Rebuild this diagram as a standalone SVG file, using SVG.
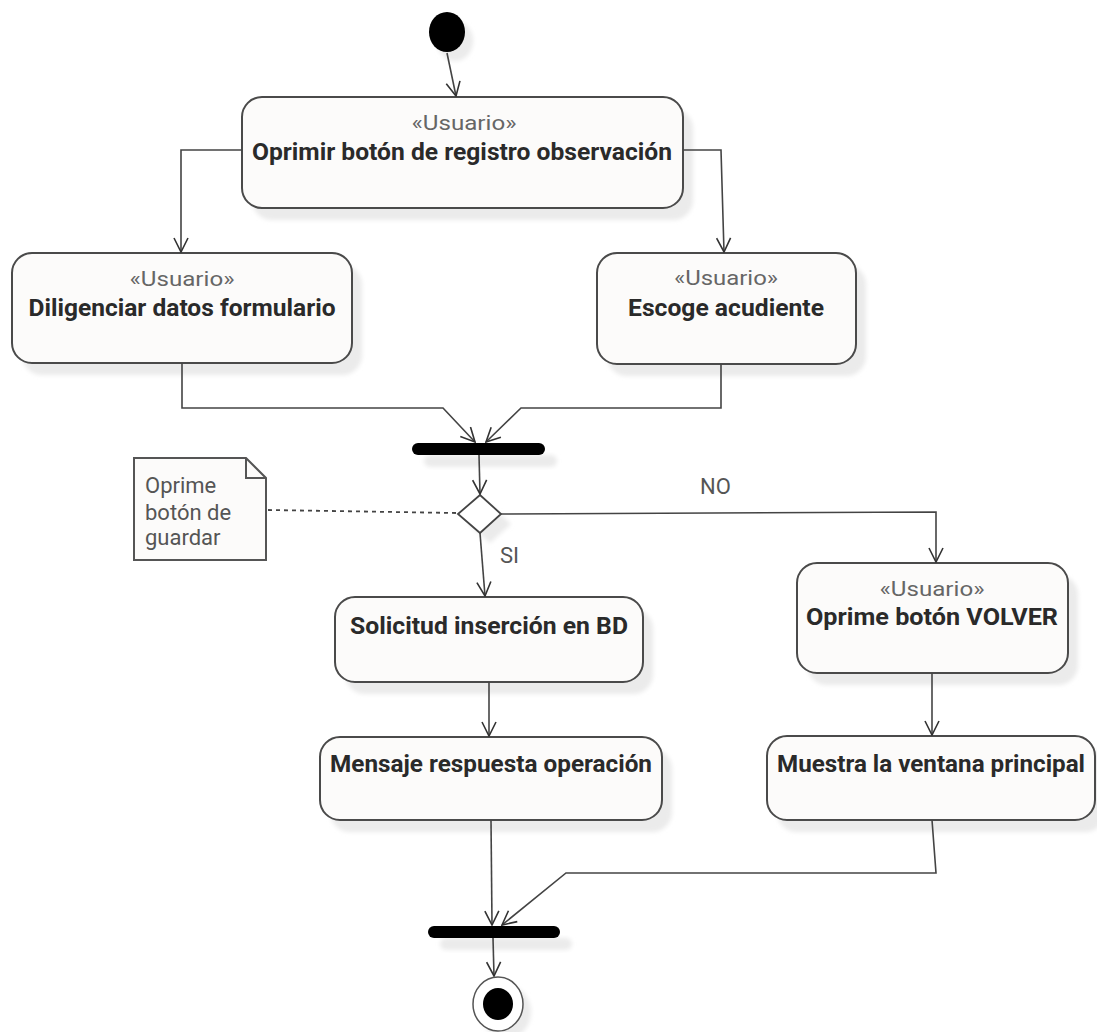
<svg xmlns="http://www.w3.org/2000/svg" width="1097" height="1032" viewBox="0 0 1097 1032">
<style>
.box{fill:#fcfbfa;stroke:#4a4a4a;stroke-width:2}
.shadow{fill:#ebebeb}
.st{font-family:Roboto,"Liberation Sans",sans-serif;font-size:21px;fill:#666;text-anchor:middle}
.nm{font-family:Roboto,"Liberation Sans",sans-serif;font-size:23px;font-weight:bold;fill:#2a2a2a;text-anchor:middle}
.lbl{font-family:Roboto,"Liberation Sans",sans-serif;font-size:22px;fill:#555}
.edge{fill:none;stroke:#444;stroke-width:1.6}
.bar{fill:#000}
</style>
<defs>
<filter id="blur" x="-20%" y="-20%" width="140%" height="140%"><feGaussianBlur stdDeviation="2"/></filter>
<marker id="arr" viewBox="0 0 16 16" refX="15" refY="8" markerWidth="16" markerHeight="16" markerUnits="userSpaceOnUse" orient="auto">
<path d="M1,1 L15,8 L1,15" fill="none" stroke="#333" stroke-width="1.6"/>
</marker>
</defs>
<rect width="1097" height="1032" fill="#fff"/>

<g id="start">
<ellipse cx="455" cy="41" rx="18" ry="20" class="shadow" filter="url(#blur)"/>
<ellipse cx="447" cy="32" rx="18" ry="20" fill="#000"/>
</g>

<g id="n1">
<rect x="252" y="109" width="441" height="111" rx="20" class="shadow" filter="url(#blur)"/>
<rect x="242" y="97" width="441" height="111" rx="20" class="box"/>
<text x="464" y="130" class="st" textLength="105" lengthAdjust="spacingAndGlyphs">«Usuario»</text>
<text x="462" y="160" class="nm" textLength="420" lengthAdjust="spacingAndGlyphs">Oprimir botón de registro observación</text>
</g>

<g id="n2">
<rect x="22" y="265" width="340" height="110" rx="20" class="shadow" filter="url(#blur)"/>
<rect x="12" y="253" width="340" height="110" rx="20" class="box"/>
<text x="182" y="286" class="st" textLength="105" lengthAdjust="spacingAndGlyphs">«Usuario»</text>
<text x="182" y="316" class="nm" textLength="307" lengthAdjust="spacingAndGlyphs">Diligenciar datos formulario</text>
</g>

<g id="n3">
<rect x="607" y="265" width="259" height="111" rx="20" class="shadow" filter="url(#blur)"/>
<rect x="597" y="253" width="259" height="111" rx="20" class="box"/>
<text x="726" y="285" class="st" textLength="104" lengthAdjust="spacingAndGlyphs">«Usuario»</text>
<text x="726" y="316" class="nm" textLength="196" lengthAdjust="spacingAndGlyphs">Escoge acudiente</text>
</g>

<g id="fork1">
<rect x="424" y="455" width="133" height="12" rx="6" class="shadow" filter="url(#blur)"/>
<rect x="412" y="443" width="133" height="12" rx="6" class="bar"/>
</g>

<g id="note">
<path d="M134,458 L246,458 L266,478 L266,560 L134,560 Z" fill="#fcfbfa" stroke="#555" stroke-width="2"/>
<path d="M246,458 L246,478 L266,478" fill="none" stroke="#555" stroke-width="2"/>
<text class="lbl"><tspan x="145" y="493">Oprime</tspan><tspan x="145" y="520">botón de</tspan><tspan x="145" y="545">guardar</tspan></text>
</g>

<g id="decision">
<path d="M468,524 L490,505 L511,524 L490,543 Z" class="shadow" filter="url(#blur)"/>
<path d="M458,514 L480,495 L501,514 L480,533 Z" fill="#fff" stroke="#444" stroke-width="1.8"/>
</g>

<g id="n4">
<rect x="345" y="609" width="308" height="85" rx="20" class="shadow" filter="url(#blur)"/>
<rect x="335" y="597" width="308" height="85" rx="20" class="box"/>
<text x="489" y="634" class="nm" textLength="278" lengthAdjust="spacingAndGlyphs">Solicitud inserción en BD</text>
</g>

<g id="n5">
<rect x="807" y="575" width="271" height="110" rx="20" class="shadow" filter="url(#blur)"/>
<rect x="797" y="563" width="271" height="110" rx="20" class="box"/>
<text x="932" y="596" class="st" textLength="105" lengthAdjust="spacingAndGlyphs">«Usuario»</text>
<text x="932" y="625" class="nm" textLength="252" lengthAdjust="spacingAndGlyphs">Oprime botón VOLVER</text>
</g>

<g id="n6">
<rect x="330" y="749" width="342" height="83" rx="20" class="shadow" filter="url(#blur)"/>
<rect x="320" y="737" width="342" height="83" rx="20" class="box"/>
<text x="491" y="772" class="nm" textLength="322" lengthAdjust="spacingAndGlyphs">Mensaje respuesta operación</text>
</g>

<g id="n7">
<rect x="777" y="748" width="328" height="84" rx="20" class="shadow" filter="url(#blur)"/>
<rect x="767" y="736" width="328" height="84" rx="20" class="box"/>
<text x="931" y="772" class="nm" textLength="308" lengthAdjust="spacingAndGlyphs">Muestra la ventana principal</text>
</g>

<g id="join">
<rect x="440" y="938" width="132" height="12" rx="6" class="shadow" filter="url(#blur)"/>
<rect x="428" y="926" width="132" height="12" rx="6" class="bar"/>
</g>

<g id="end">
<ellipse cx="506" cy="1012" rx="25" ry="27" class="shadow" filter="url(#blur)"/>
<ellipse cx="498" cy="1004" rx="25" ry="27" fill="#fff" stroke="#555" stroke-width="1.5"/>
<ellipse cx="498" cy="1004" rx="15" ry="16" fill="#000"/>
</g>

<g id="connectors">
<path d="M447,53 L456,96" class="edge" marker-end="url(#arr)"/>
<path d="M242,150 L181,150 L181,252" class="edge" marker-end="url(#arr)"/>
<path d="M683,150 L721,150 L724,252" class="edge" marker-end="url(#arr)"/>
<path d="M182,363 L182,408 L443,408 L475,442" class="edge" marker-end="url(#arr)"/>
<path d="M721,364 L721,408 L521,408 L486,442" class="edge" marker-end="url(#arr)"/>
<path d="M479,455 L480,494" class="edge" marker-end="url(#arr)"/>
<path d="M268,510 L457,513" fill="none" stroke="#444" stroke-width="1.8" stroke-dasharray="4,4"/>
<path d="M480,533 L485,596" class="edge" marker-end="url(#arr)"/>
<path d="M501,514 L936,512 L936,562" class="edge" marker-end="url(#arr)"/>
<path d="M489,682 L489,736" class="edge" marker-end="url(#arr)"/>
<path d="M932,673 L932,735" class="edge" marker-end="url(#arr)"/>
<path d="M491,820 L492,925" class="edge" marker-end="url(#arr)"/>
<path d="M932,820 L936,873 L566,873 L502,925" class="edge" marker-end="url(#arr)"/>
<path d="M493,938 L494,976" class="edge" marker-end="url(#arr)"/>
<text x="700" y="494" class="lbl">NO</text>
<text x="500" y="563" class="lbl">SI</text>
</g>
</svg>
